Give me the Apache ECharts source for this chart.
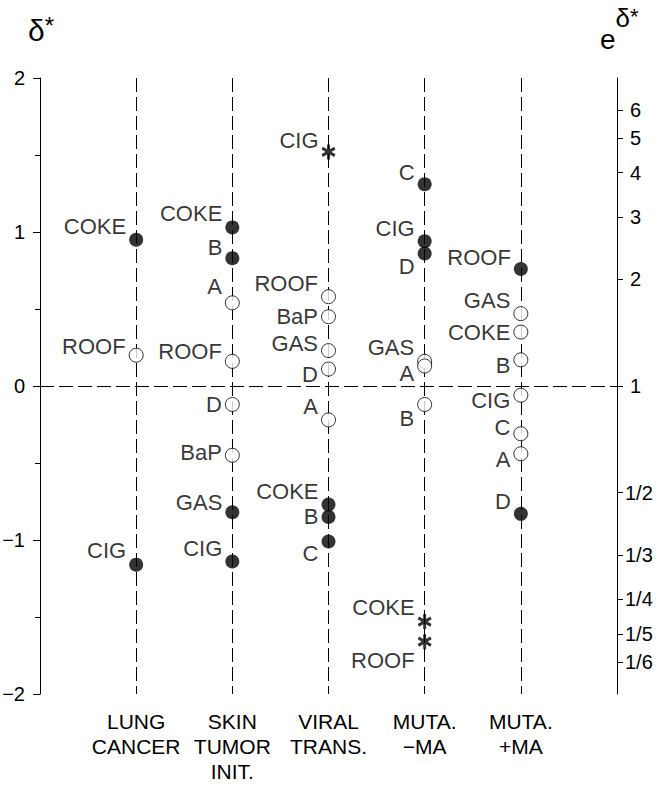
<!DOCTYPE html>
<html>
<head>
<meta charset="utf-8">
<script src="https://cdn.jsdelivr.net/npm/echarts@6/dist/echarts.min.js"></script>
<style>
  html, body { margin: 0; padding: 0; background: #fff; }
  #chart { width: 658px; height: 788px; }
</style>
</head>
<body>
<div id="chart"></div>
<script>
// categories along the bottom
const categories = ['LUNG\nCANCER', 'SKIN\nTUMOR\nINIT.', 'VIRAL\nTRANS.', 'MUTA.\n−MA', 'MUTA.\n+MA']

// per column: agent names, delta* values, marker kind (sig = filled, ns = open, star = asterisk)
const lungNames = ['COKE', 'ROOF', 'CIG']
const lungValues = [0.95, 0.20, -1.16]
const lungKinds = ['sig', 'ns', 'sig']

const skinNames = ['COKE', 'B', 'A', 'ROOF', 'D', 'BaP', 'GAS', 'CIG']
const skinValues = [1.03, 0.83, 0.54, 0.16, -0.12, -0.45, -0.82, -1.14]
const skinKinds = ['sig', 'sig', 'ns', 'ns', 'ns', 'ns', 'sig', 'sig']

const viralNames = ['CIG', 'ROOF', 'BaP', 'GAS', 'D', 'A', 'COKE', 'B', 'C']
const viralValues = [1.52, 0.58, 0.45, 0.23, 0.11, -0.22, -0.77, -0.85, -1.01]
const viralKinds = ['star', 'ns', 'ns', 'ns', 'ns', 'ns', 'sig', 'sig', 'sig']

const mutaMinusNames = ['C', 'CIG', 'D', 'GAS', 'A', 'B', 'COKE', 'ROOF']
const mutaMinusValues = [1.31, 0.94, 0.86, 0.16, 0.13, -0.12, -1.53, -1.66]
const mutaMinusKinds = ['sig', 'sig', 'sig', 'ns', 'ns', 'ns', 'star', 'star']

const mutaPlusNames = ['ROOF', 'GAS', 'COKE', 'B', 'CIG', 'C', 'A', 'D']
const mutaPlusValues = [0.76, 0.47, 0.35, 0.17, -0.06, -0.31, -0.44, -0.83]
const mutaPlusKinds = ['sig', 'ns', 'ns', 'ns', 'ns', 'ns', 'ns', 'sig']

// right axis tick labels (e^delta*)
const rightTickLabels = ['6', '5', '4', '3', '2', '1', '1/2', '1/3', '1/4', '1/5', '1/6']
const rightTickRatios = [6, 5, 4, 3, 2, 1, 1 / 2, 1 / 3, 1 / 4, 1 / 5, 1 / 6]

// label nudges (px, vertical) so names sit like in the figure
const labelNudge = [
  [-13, -9, -14],
  [-14, -11, -16, -10, 0, -3, -10, -13],
  [-11, -13, 0, -7, 5, -13, -13, 0, 12],
  [-12, -13, 13, -14, 8, 14, -14, 19],
  [-11, -13, 0, 6, 5, -6, 6, -12]
]

const columns = [
  [lungNames, lungValues, lungKinds],
  [skinNames, skinValues, skinKinds],
  [viralNames, viralValues, viralKinds],
  [mutaMinusNames, mutaMinusValues, mutaMinusKinds],
  [mutaPlusNames, mutaPlusValues, mutaPlusKinds]
]

const FONT = 'Liberation Sans'
const ASTERISK = 'path://M-2,-10L2,-10L2,10L-2,10ZM7.66,-6.73L9.66,-3.27L-7.66,6.73L-9.66,3.27ZM-9.66,-3.27L-7.66,-6.73L9.66,3.27L7.66,6.73Z'

// split points into the three marker groups
const groups = { sig: [], ns: [], star: [] }
columns.forEach(([names, values, kinds], ci) => {
  names.forEach((name, i) => {
    groups[kinds[i]].push({
      name: name,
      value: [ci + 1, values[i]],
      label: { offset: [0, labelNudge[ci][i]] }
    })
  })
})

const rightTickPos = rightTickRatios.map(r => Math.log(r))

const pointLabel = {
  show: true,
  position: 'left',
  distance: 3,
  formatter: '{b}',
  color: '#000',
  fontSize: 22,
  fontFamily: FONT
}

const chart = echarts.init(document.getElementById('chart'), null, { renderer: 'svg' })

const option = {
  backgroundColor: '#fff',
  animation: false,
  title: [
    {
      text: '{d|δ}{s|*}',
      left: 23,
      top: 8,
      textStyle: {
        rich: {
          d: { fontSize: 30, fontWeight: 'normal', fontFamily: FONT, color: '#000', lineHeight: 34 },
          s: { fontSize: 24, fontWeight: 'normal', fontFamily: FONT, color: '#000', verticalAlign: 'top', lineHeight: 34 }
        }
      }
    },
    {
      text: '{e|e}{d|δ}{s|*}',
      left: 595,
      top: 0,
      textStyle: {
        rich: {
          e: { fontSize: 28, fontWeight: 'normal', fontFamily: FONT, color: '#000', lineHeight: 48, verticalAlign: 'bottom' },
          d: { fontSize: 26, fontWeight: 'normal', fontFamily: FONT, color: '#000', lineHeight: 48, verticalAlign: 'top' },
          s: { fontSize: 22, fontWeight: 'normal', fontFamily: FONT, color: '#000', lineHeight: 48, verticalAlign: 'top' }
        }
      }
    }
  ],
  grid: {
    left: 40,
    right: 41,
    top: 78,
    bottom: 94,
    outerBoundsMode: 'none'
  },
  xAxis: {
    type: 'value',
    min: 0,
    max: 6,
    interval: 1,
    axisLine: { show: false },
    axisTick: { show: false },
    splitLine: {
      show: true,
      lineStyle: { color: '#000', width: 1, type: [14, 5] }
    },
    axisLabel: {
      margin: 15,
      color: '#000',
      fontSize: 21,
      lineHeight: 25,
      fontFamily: FONT,
      formatter: (v) => categories[v - 1] || ''
    }
  },
  yAxis: [
    {
      type: 'value',
      min: -2,
      max: 2,
      interval: 1,
      position: 'left',
      axisLine: { show: true, lineStyle: { color: '#000', width: 1 } },
      axisTick: { show: true, length: 7, lineStyle: { color: '#000' } },
      minorTick: { show: true, splitNumber: 2, length: 5, lineStyle: { color: '#000' } },
      splitLine: { show: false },
      axisLabel: {
        margin: 15,
        color: '#000',
        fontSize: 20,
        fontFamily: FONT,
        formatter: (v) => (v < 0 ? '−' + Math.abs(v) : String(v))
      }
    },
    {
      type: 'value',
      min: -2,
      max: 2,
      position: 'right',
      axisLine: { show: true, lineStyle: { color: '#000', width: 1 } },
      axisTick: { show: true, length: 6, customValues: rightTickPos, lineStyle: { color: '#000' } },
      splitLine: { show: false },
      axisLabel: {
        margin: 8,
        color: '#000',
        fontSize: 20,
        fontFamily: FONT,
        customValues: rightTickPos,
        formatter: (v) => {
          let best = 0
          rightTickPos.forEach((p, i) => {
            if (Math.abs(p - v) < Math.abs(rightTickPos[best] - v)) best = i
          })
          const txt = rightTickLabels[best]
          return txt.length === 1 ? '{i|' + txt + '}' : txt
        },
        rich: {
          i: { fontSize: 20, fontFamily: FONT, color: '#000', padding: [0, 0, 0, 5] }
        }
      }
    }
  ],
  series: [
    {
      name: 'zero',
      type: 'scatter',
      data: [],
      markLine: {
        silent: true,
        symbol: ['none', 'none'],
        label: { show: false },
        lineStyle: { color: '#000', width: 1, type: [14, 5] },
        data: [{ yAxis: 0 }]
      }
    },
    {
      name: 'significant',
      type: 'scatter',
      symbol: 'circle',
      symbolSize: 14,
      itemStyle: { color: '#000' },
      label: pointLabel,
      data: groups.sig,
      z: 5
    },
    {
      name: 'not significant',
      type: 'scatter',
      symbol: 'circle',
      symbolSize: 14,
      itemStyle: { color: '#fff', borderColor: '#000', borderWidth: 1 },
      label: pointLabel,
      data: groups.ns,
      z: 5
    },
    {
      name: 'asterisk',
      type: 'scatter',
      symbol: ASTERISK,
      symbolSize: [14, 15],
      itemStyle: { color: '#000' },
      label: pointLabel,
      data: groups.star,
      z: 5
    }
  ]
}

chart.setOption(option)
</script>
</body>
</html>
